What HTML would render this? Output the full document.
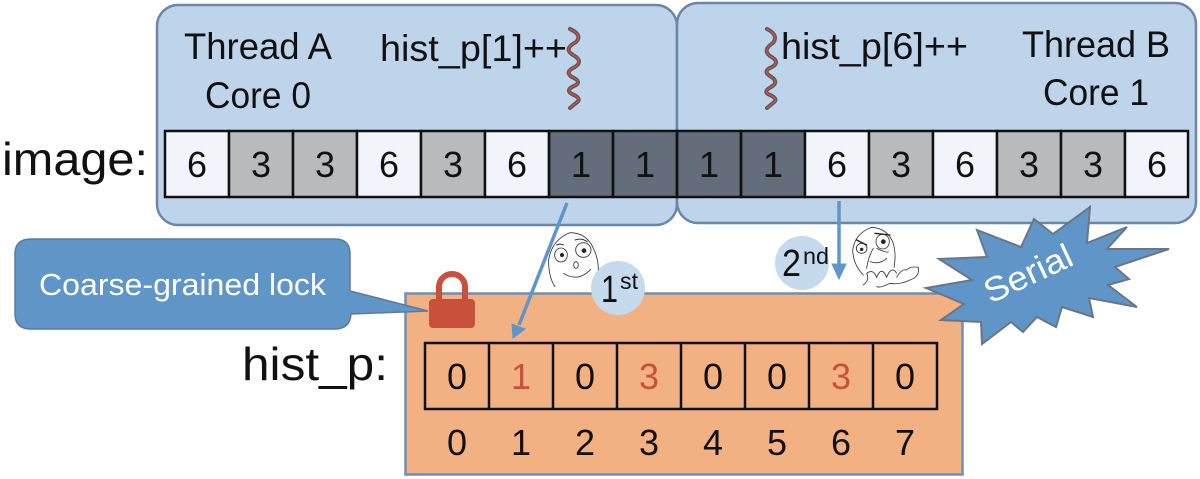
<!DOCTYPE html>
<html><head><meta charset="utf-8"><style>
html,body{margin:0;padding:0;background:#fff}
svg{display:block}
text{font-family:"Liberation Sans",sans-serif;fill:#111}
.n{font-size:36px;text-anchor:middle}
</style></head><body>
<svg width="1200" height="479" viewBox="0 0 1200 479" xmlns="http://www.w3.org/2000/svg">
<defs>
<pattern id="sp" width="17" height="13" patternUnits="userSpaceOnUse"><rect x="3" y="2" width="1" height="1" fill="#b5534a"/><rect x="11" y="5" width="1" height="1" fill="#b5534a"/><rect x="6" y="10" width="1" height="1" fill="#b5534a"/><rect x="15" y="11" width="1" height="1" fill="#b5534a"/></pattern>
</defs>
<!-- panels -->
<rect x="157" y="5" width="520" height="220" rx="21" fill="#bed4eb" stroke="#6a86a8" stroke-width="2.5"/>
<rect x="677" y="3" width="519" height="220" rx="21" fill="#bed4eb" stroke="#6a86a8" stroke-width="2.5"/>
<text x="184" y="59" font-size="37" textLength="148" lengthAdjust="spacingAndGlyphs">Thread A</text>
<text x="205" y="108" font-size="37" textLength="106" lengthAdjust="spacingAndGlyphs">Core 0</text>
<text x="380" y="61" font-size="37" textLength="187" lengthAdjust="spacingAndGlyphs">hist_p[1]++</text>
<text x="781" y="59" font-size="37" textLength="187" lengthAdjust="spacingAndGlyphs">hist_p[6]++</text>
<text x="1022" y="57" font-size="37" textLength="148" lengthAdjust="spacingAndGlyphs">Thread B</text>
<text x="1043" y="105" font-size="37" textLength="106" lengthAdjust="spacingAndGlyphs">Core 1</text>
<!-- squiggles -->
<g fill="none" stroke-linecap="round" stroke-linejoin="round">
<g stroke="#55585f" stroke-width="4">
<path d="M570 29Q583 35 576 42Q563 49 573 55Q584 61 575 67Q564 72 572 77Q583 82 574 86Q565 90 572 94Q583 99 576 103L570 108"/>
<path d="M767 29Q779 35 773 43Q762 50 770 56Q781 62 772 67Q762 71 770 76Q780 82 771 87Q762 92 770 95Q779 99 773 103L767 108"/>
</g>
<g stroke="#d9503a" stroke-width="1.300">
<path d="M570 29Q583 35 576 42Q563 49 573 55Q584 61 575 67Q564 72 572 77Q583 82 574 86Q565 90 572 94Q583 99 576 103L570 108"/>
<path d="M767 29Q779 35 773 43Q762 50 770 56Q781 62 772 67Q762 71 770 76Q780 82 771 87Q762 92 770 95Q779 99 773 103L767 108"/>
</g>
</g>
<!-- image row -->
<text x="2" y="175" font-size="46" textLength="146" lengthAdjust="spacingAndGlyphs">image:</text>
<rect x="549" y="131" width="256" height="66" fill="#626e7b"/>
<rect x="549" y="131" width="256" height="66" fill="url(#sp)"/>
<g stroke="#111" stroke-width="2.500">
<rect x="165" y="131" width="64" height="66" fill="#f1f5fb"/>
<rect x="229" y="131" width="64" height="66" fill="#b8babc"/>
<rect x="293" y="131" width="64" height="66" fill="#b8babc"/>
<rect x="357" y="131" width="64" height="66" fill="#f1f5fb"/>
<rect x="421" y="131" width="64" height="66" fill="#b8babc"/>
<rect x="485" y="131" width="64" height="66" fill="#f1f5fb"/>
<rect x="549" y="131" width="64" height="66" fill="none"/>
<rect x="613" y="131" width="64" height="66" fill="none"/>
<rect x="677" y="131" width="64" height="66" fill="none"/>
<rect x="741" y="131" width="64" height="66" fill="none"/>
<rect x="805" y="131" width="64" height="66" fill="#f1f5fb"/>
<rect x="869" y="131" width="64" height="66" fill="#b8babc"/>
<rect x="933" y="131" width="64" height="66" fill="#f1f5fb"/>
<rect x="997" y="131" width="64" height="66" fill="#b8babc"/>
<rect x="1061" y="131" width="64" height="66" fill="#b8babc"/>
<rect x="1125" y="131" width="63" height="66" fill="#f1f5fb"/>
</g>
<g>
<text class="n" x="197" y="177">6</text><text class="n" x="261" y="177">3</text><text class="n" x="325" y="177">3</text><text class="n" x="389" y="177">6</text><text class="n" x="453" y="177">3</text><text class="n" x="517" y="177">6</text><text class="n" x="581" y="177">1</text><text class="n" x="645" y="177">1</text><text class="n" x="709" y="177">1</text><text class="n" x="773" y="177">1</text><text class="n" x="837" y="177">6</text><text class="n" x="901" y="177">3</text><text class="n" x="965" y="177">6</text><text class="n" x="1029" y="177">3</text><text class="n" x="1093" y="177">3</text><text class="n" x="1157" y="177">6</text>
</g>
<!-- orange box -->
<rect x="405.500" y="293.500" width="557" height="181" fill="#f2b183" stroke="#6f8fb0" stroke-width="2.500"/>
<!-- burst -->
<polygon fill="#5f95c7" stroke="#6a7686" stroke-width="2" points="1090,207 1087,243 1127,227 1107,249 1169,249 1115,267 1129,279 1108,285 1137,307 1089,298 1093,317 1062,307 1056,327 1037,317 1023,332 1011,322 982,344 981,322 941,320 964,304 926,288 972,280 939,259 987,257 977,230 1021,247 1034,219 1053,234"/>
<text transform="translate(1033,284) rotate(-25)" font-size="34" text-anchor="middle" textLength="94" lengthAdjust="spacingAndGlyphs" style="fill:#fff">Serial</text>
<!-- hist cells -->
<g fill="none" stroke="#111" stroke-width="2.500">
<rect x="425" y="343" width="512" height="66"/>
<path d="M489 343V409M553 343V409M617 343V409M681 343V409M745 343V409M809 343V409M873 343V409"/>
</g>
<text x="242" y="380" font-size="46" textLength="146" lengthAdjust="spacingAndGlyphs">hist_p:</text>
<text class="n" x="457" y="389">0</text><text class="n" x="521" y="389" style="fill:#c9503a">1</text><text class="n" x="585" y="389">0</text><text class="n" x="649" y="389" style="fill:#c9503a">3</text><text class="n" x="713" y="389">0</text><text class="n" x="777" y="389">0</text><text class="n" x="841" y="389" style="fill:#c9503a">3</text><text class="n" x="905" y="389">0</text>
<text class="n" x="457" y="455">0</text><text class="n" x="521" y="455">1</text><text class="n" x="585" y="455">2</text><text class="n" x="649" y="455">3</text><text class="n" x="713" y="455">4</text><text class="n" x="777" y="455">5</text><text class="n" x="841" y="455">6</text><text class="n" x="905" y="455">7</text>
<!-- callout -->
<path d="M31 239H335Q350 239 350 254V291L428 311L351 314Q350 329 335 329H31Q15 329 15 314V254Q15 239 31 239Z" fill="#5f95c7" stroke="#5f7a99" stroke-width="1.500"/>
<text x="39" y="295" font-size="31" textLength="287" lengthAdjust="spacingAndGlyphs" style="fill:#fff">Coarse-grained lock</text>
<!-- lock -->
<path d="M439 302V287A13 13 0 0 1 465 287V302" fill="none" stroke="#c9503a" stroke-width="6"/>
<rect x="429" y="299" width="46" height="29" rx="4" fill="#c9503a"/>
<!-- circles -->
<circle cx="618" cy="288" r="27" fill="#c6daed"/>
<circle cx="802" cy="263" r="27" fill="#c6daed"/>
<text x="601" y="302" font-size="38" textLength="17" lengthAdjust="spacingAndGlyphs">1</text>
<text x="620" y="289" font-size="23" textLength="18" lengthAdjust="spacingAndGlyphs">st</text>
<text x="782" y="276" font-size="38" textLength="19" lengthAdjust="spacingAndGlyphs">2</text>
<text x="803" y="264" font-size="23" textLength="26" lengthAdjust="spacingAndGlyphs">nd</text>
<!-- faces -->
<g transform="translate(500,190) scale(.33333)" fill="none" stroke="#333" stroke-width="2.500" stroke-linecap="round">
<path d="M165 290Q145 260 146 210Q155 150 210 128Q260 128 280 175Q295 205 295 240"/>
<ellipse cx="183" cy="195" rx="19" ry="21"/><ellipse cx="250" cy="180" rx="23" ry="22"/>
<circle cx="186" cy="195" r="5" fill="#222"/><circle cx="252" cy="182" r="6" fill="#222"/>
<path d="M170 165Q180 160 190 165M225 150Q245 143 262 155" stroke-width="3"/>
<ellipse cx="228" cy="225" rx="7" ry="10"/>
<path d="M190 250Q235 278 272 238"/>
<path d="M1090 255Q1060 225 1058 180Q1065 130 1115 112Q1160 115 1178 155Q1190 190 1182 232"/>
<ellipse cx="1085" cy="175" rx="16" ry="15"/><ellipse cx="1148" cy="155" rx="20" ry="22"/>
<circle cx="1150" cy="155" r="6" fill="#222"/><circle cx="1085" cy="178" r="4" fill="#222"/>
<path d="M1125 130L1170 135M1070 150L1100 165" stroke-width="4" stroke="#222"/>
<path d="M1120 175Q1105 200 1100 235M1130 175Q1160 190 1165 185M1110 215Q1140 225 1160 205"/>
<path d="M1090 285Q1110 270 1100 250Q1120 235 1130 262Q1145 225 1160 262Q1175 225 1190 250M1190 262Q1205 235 1220 240Q1230 228 1255 232Q1260 260 1230 270Q1200 285 1170 280Q1140 295 1130 290"/>
</g>
<!-- arrows -->
<g stroke="#5f95c7" fill="#5f95c7">
<line x1="567" y1="203" x2="519" y2="325" stroke-width="3.500"/>
<polygon points="513,338 512,324 525,329" stroke-width="1"/>
<line x1="839" y1="201" x2="839" y2="268" stroke-width="3.500"/>
<polygon points="839,279 832,264 846,264" stroke-width="1"/>
</g>
</svg>
</body></html>
